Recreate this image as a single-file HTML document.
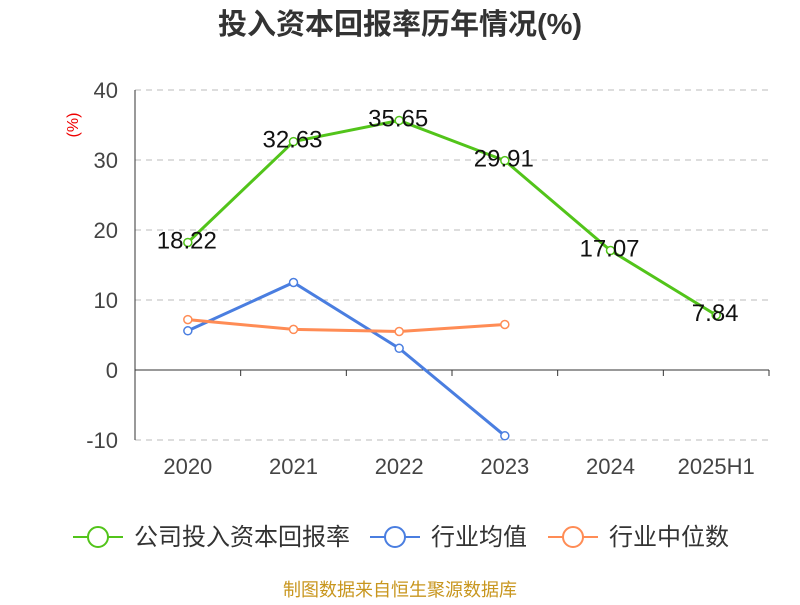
<!DOCTYPE html>
<html><head><meta charset="utf-8"><style>
body{margin:0;background:#fff;}
svg text{font-family:"Liberation Sans","Noto Sans CJK SC",sans-serif;}
</style></head><body>
<svg id="chart" width="800" height="600" xmlns="http://www.w3.org/2000/svg">
<text x="400" y="34" text-anchor="middle" font-size="29" font-weight="bold" fill="#333">投入资本回报率历年情况(%)</text>
<text transform="translate(78,125) rotate(-90)" text-anchor="middle" font-size="16" fill="#e00">(%)</text>
<g id="grid"></g><g id="axes"></g><g id="series"></g>
<g>
<g><line x1="73" y1="537" x2="123" y2="537" stroke="#52c41a" stroke-width="2"/><circle cx="98" cy="537" r="10" fill="#fff" stroke="#52c41a" stroke-width="2"/><text x="134" y="545" font-size="24" fill="#333">公司投入资本回报率</text></g>
<g><line x1="370" y1="537" x2="420" y2="537" stroke="#4a7ee0" stroke-width="2"/><circle cx="395" cy="537" r="10" fill="#fff" stroke="#4a7ee0" stroke-width="2"/><text x="431" y="545" font-size="24" fill="#333">行业均值</text></g>
<g><line x1="548" y1="537" x2="598" y2="537" stroke="#ff8c55" stroke-width="2"/><circle cx="573" cy="537" r="10" fill="#fff" stroke="#ff8c55" stroke-width="2"/><text x="609" y="545" font-size="24" fill="#333">行业中位数</text></g>
</g>
<text x="400" y="596" text-anchor="middle" font-size="18" fill="#c8961e">制图数据来自恒生聚源数据库</text>
</svg>
<script>
const categories=["2020","2021","2022","2023","2024","2025H1"];
const companyValues=[18.22,32.63,35.65,29.91,17.07,7.84];
const industryAvg=[5.6,12.5,3.1,-9.4];
const industryMedian=[7.2,5.8,5.5,6.5];
const yTicks=[-10,0,10,20,30,40];
const NS="http://www.w3.org/2000/svg";
const X0=135,X1=769,band=(X1-X0)/categories.length;
const xs=i=>X0+band*(i+0.5);
const ys=v=>370-v*7;
function mk(tag,attrs,parent){const e=document.createElementNS(NS,tag);for(const k in attrs)e.setAttribute(k,attrs[k]);parent.appendChild(e);return e;}
const grid=document.getElementById('grid'),axes=document.getElementById('axes'),ser=document.getElementById('series');
yTicks.forEach(t=>{
 if(t!==0){const l=mk('line',{x1:X0,x2:X1,y1:ys(t),y2:ys(t),stroke:'#bbb','stroke-dasharray':'6,5'},grid);
 
 }
 const tx=mk('text',{x:118,y:ys(t)+8,'text-anchor':'end','font-size':22,fill:'#444'},axes);tx.textContent=t;
 
 
});
const ya=mk('line',{x1:X0,x2:X0,y1:ys(40),y2:ys(-10),stroke:'#333'},axes);


const xa=mk('line',{x1:X0,x2:X1,y1:ys(0),y2:ys(0),stroke:'#333'},axes);


for(let i=0;i<=categories.length;i++){mk('line',{x1:X0+band*i,x2:X0+band*i,y1:ys(0),y2:ys(0)+6,stroke:'#333'},axes);}
categories.forEach((c,i)=>{const t=mk('text',{x:xs(i),y:474,'text-anchor':'middle','font-size':22,fill:'#444'},axes);t.textContent=c;
 
 });
function series(vals,color,name,labels){
 const p=mk('polyline',{points:vals.map((v,i)=>xs(i)+','+ys(v)).join(' '),fill:'none',stroke:color,'stroke-width':3},ser);
 
 
 vals.forEach((v,i)=>{const c=mk('circle',{cx:xs(i),cy:ys(v),r:4,fill:'#fff',stroke:color,'stroke-width':1.5},ser);
  
  
  if(labels){const t=mk('text',{x:xs(i)-1,y:ys(v)+6,'text-anchor':'middle','font-size':24,fill:'#111'},ser);t.textContent=v.toFixed(2);
   
   }
 });
}
series(industryAvg,'#4a7ee0','industry-avg',false);
series(industryMedian,'#ff8c55','industry-median',false);
series(companyValues,'#52c41a','company',true);
</script>
</body></html>
